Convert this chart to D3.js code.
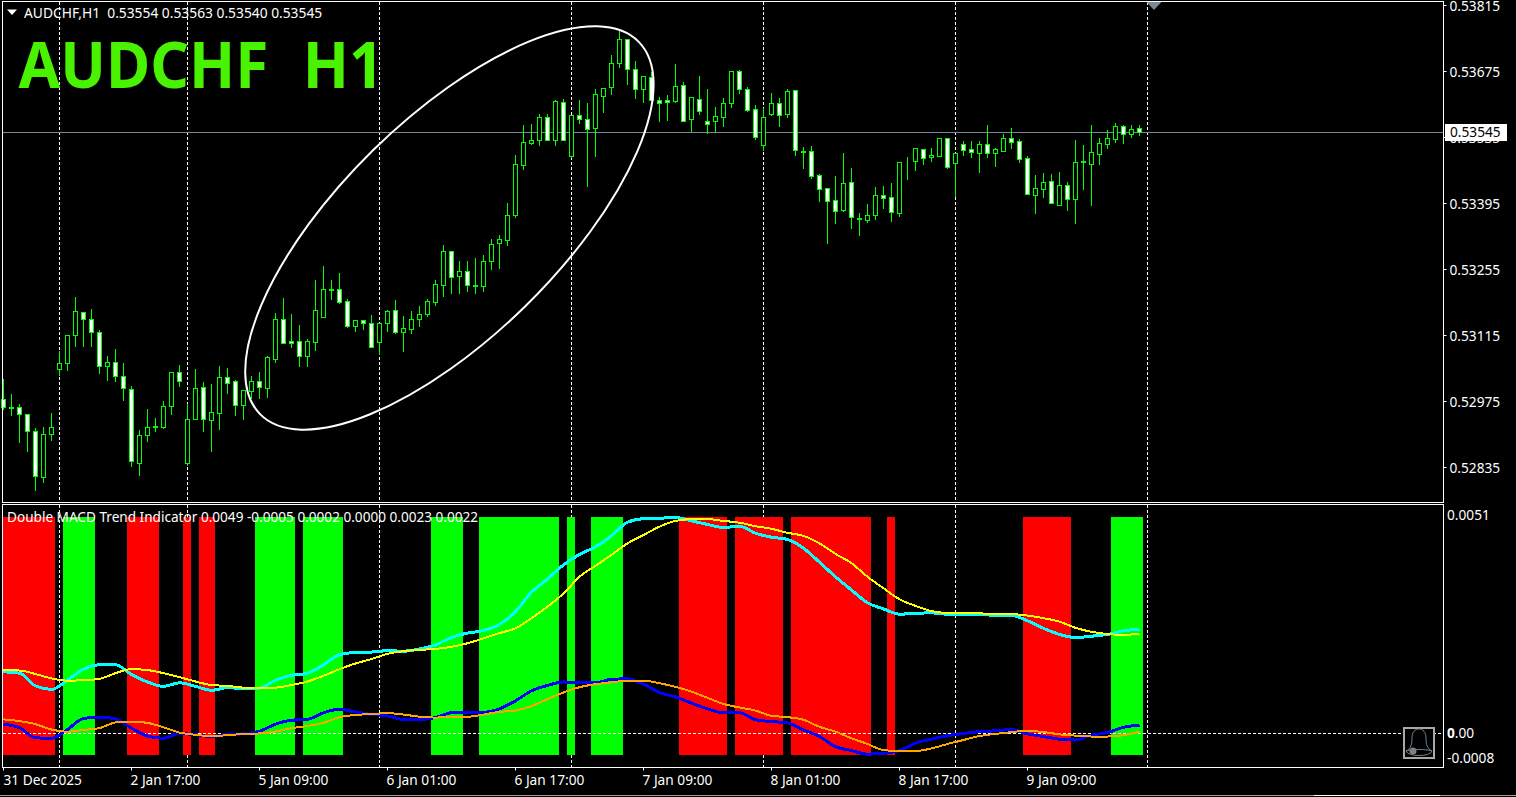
<!DOCTYPE html>
<html>
<head>
<meta charset="utf-8">
<title>AUDCHF H1</title>
<script src="https://cdn.jsdelivr.net/npm/d3@7"></script>
<style>
    html, body { margin: 0; background: #000; overflow: hidden; }
    svg { display: block; }
    text { font-family: "Noto Sans", sans-serif; font-size: 13.7px; fill: #fff; white-space: pre; }
</style>
</head>
<body>
<div id="viz"></div>
<script>
const width = 1516;
const height = 797;

// prices in points (1/100000), one entry per H1 bar
const opens = [
    52979,52963,52963,52948,52911,52814,52904,53042,53056,53116,
    53163,53150,53121,53049,53057,53027,53000,52844,52902,52921,
    52920,52964,53036,52844,52936,53004,52935,52950,53025,53017,
    52967,52997,53017,53003,53065,53150,53102,53102,53071,53101,
    53154,53213,53212,53187,53135,53146,53140,53100,53140,53167,
    53122,53128,53150,53160,53184,53222,53293,53241,53250,53222,
    53220,53273,53310,53317,53370,53476,53523,53529,53577,53529,
    53609,53495,53581,53574,53555,53623,53642,53693,53742,53679,
    53636,53662,53613,53613,53612,53645,53573,53616,53568,53570,
    53578,53607,53676,53636,53594,53517,53584,53607,53584,53634,
    53505,53505,53454,53426,53401,53381,53439,53364,53360,53370,
    53413,53407,53374,53483,53485,53509,53492,53495,53532,53480,
    53520,53509,53500,53520,53500,53506,53532,53526,53490,53413,
    53425,53441,53391,53433,53404,53485,53478,53498,53521,53531,
    53558,53542,53554];
const closes = [
    52962,52961,52947,52911,52815,52904,52919,53055,53114,53165,
    53150,53121,53049,53057,53027,53002,52847,52902,52920,52919,
    52964,53036,53017,52936,53002,52936,52951,53025,53014,52967,
    52998,53017,53005,53068,53148,53097,53097,53071,53102,53167,
    53212,53210,53186,53135,53146,53140,53089,53140,53165,53122,
    53129,53148,53159,53187,53223,53293,53239,53250,53222,53220,
    53273,53307,53318,53369,53477,53524,53528,53577,53529,53611,
    53528,53581,53574,53553,53626,53640,53693,53742,53679,53636,
    53664,53613,53607,53609,53643,53568,53619,53591,53563,53579,
    53607,53674,53636,53593,53534,53577,53607,53582,53632,53507,
    53503,53453,53425,53400,53379,53437,53366,53362,53369,53413,
    53406,53376,53481,53481,53511,53491,53496,53532,53472,53502,
    53508,53503,53520,53500,53509,53532,53525,53489,53415,53426,
    53439,53394,53433,53404,53483,53483,53503,53522,53532,53558,
    53542,53553,53545];
const highs = [
    53023,52991,52970,52949,52919,52923,52951,53083,53117,53198,
    53166,53172,53127,53072,53087,53058,53009,52916,52960,52941,
    52977,53039,53053,52970,53045,53017,53013,53051,53047,53021,
    53000,53030,53039,53073,53164,53196,53161,53138,53109,53234,
    53264,53234,53249,53194,53150,53150,53159,53141,53170,53191,
    53157,53168,53179,53193,53233,53308,53293,53274,53274,53280,
    53287,53320,53329,53397,53499,53563,53565,53585,53585,53615,
    53617,53582,53615,53609,53640,53641,53710,53761,53744,53698,
    53666,53675,53622,53626,53692,53654,53619,53666,53640,53600,
    53619,53674,53679,53643,53604,53598,53630,53620,53640,53634,
    53516,53518,53459,53426,53454,53503,53471,53375,53395,53431,
    53433,53440,53481,53494,53513,53510,53513,53536,53534,53503,
    53528,53528,53528,53562,53513,53543,53556,53532,53496,53457,
    53461,53459,53463,53442,53531,53520,53562,53534,53551,53567,
    53562,53562,53563];
const lows = [
    52959,52945,52887,52870,52787,52804,52892,53030,53041,53092,
    53092,53092,53035,53020,53018,52977,52837,52818,52890,52911,
    52918,52947,53007,52839,52936,52911,52870,52916,52992,52945,
    52937,52981,52981,52984,53058,53097,53090,53049,53049,53083,
    53154,53191,53183,53132,53124,53128,53089,53075,53124,53119,
    53081,53120,53134,53155,53179,53198,53204,53204,53208,53204,
    53208,53255,53257,53306,53365,53467,53520,53518,53529,53518,
    53528,53493,53565,53432,53495,53589,53627,53684,53648,53618,
    53610,53613,53570,53571,53610,53568,53548,53584,53544,53546,
    53558,53599,53629,53591,53531,53507,53582,53558,53578,53497,
    53469,53448,53399,53310,53353,53378,53342,53327,53355,53361,
    53384,53357,53367,53446,53465,53478,53484,53495,53469,53410,
    53497,53493,53461,53493,53474,53506,53512,53483,53415,53374,
    53408,53394,53391,53380,53353,53425,53391,53478,53512,53524,
    53522,53536,53540];

const priceTicks = [53815, 53675, 53535, 53395, 53255, 53115, 52975, 52835];
const lastPrice = 53545;
const separatorBars = [7, 23, 47, 71, 95, 119, 143];
const xTickBars = [0, 16, 32, 48, 64, 80, 96, 112, 128];
const xTickLabels = ['31 Dec 2025', '2 Jan 17:00', '5 Jan 09:00', '6 Jan 01:00', '6 Jan 17:00',
    '7 Jan 09:00', '8 Jan 01:00', '8 Jan 17:00', '9 Jan 09:00'];

// indicator: runs of trend bars as [first bar, last bar]
const redRuns = [[0,6],[16,19],[23,23],[25,26],[85,90],[92,97],[99,108],[111,111],[128,133]];
const greenRuns = [[8,11],[32,36],[38,42],[54,57],[60,69],[71,71],[74,77],[139,142]];
const histTop = 490;
const histBottom = -50;

// indicator lines in 1/100000, read at every second bar
const lineBars = d3.range(0, 143, 2);
const cyanLine = [
    139,136,107,99,120,145,155,155,133,116,106,114,106,97,103,101,102,120,131,136,155,178,183,184,187,
    186,191,200,217,227,233,247,276,320,350,382,406,423,448,479,487,488,490,482,474,467,470,454,445,440,
    420,388,355,325,296,282,270,272,273,270,270,270,267,267,255,238,224,217,220,224,232,236];
const yellowLine = [
    143,142,134,124,119,120,123,136,145,143,136,127,117,109,107,103,102,103,109,117,130,145,158,168,180,
    186,189,191,196,204,215,227,238,261,287,317,355,380,405,431,450,469,482,486,486,482,478,470,464,455,
    448,431,407,386,355,329,304,289,277,273,273,272,270,270,267,261,253,239,230,225,223,226];
const blueLine = [
    20,12,-11,-12,8,33,36,32,11,-7,-12,-1,-4,-8,-3,-2,4,20,29,31,46,54,48,42,39,
    31,31,35,46,47,47,55,73,96,108,116,114,114,122,123,111,92,82,68,55,46,46,30,26,23,
    7,-8,-31,-40,-48,-46,-40,-23,-14,-6,-1,3,5,8,-2,-8,-14,-16,-5,1,13,18];
const orangeLine = [
    31,27,20,8,3,7,11,24,26,23,13,1,-4,-7,-5,-2,-1,3,11,16,23,36,41,43,45,
    42,37,35,37,37,42,48,51,61,77,92,104,111,115,119,119,113,105,94,80,66,58,51,39,36,
    30,14,3,-12,-25,-39,-41,-41,-35,-25,-16,-7,-2,2,5,2,-3,-6,-8,-8,-5,3];

const mainTitle = 'AUDCHF  H1';
const chartLabel = 'AUDCHF,H1  0.53554 0.53563 0.53540 0.53545';
const indicatorLabel = 'Double MACD Trend Indicator 0.0049 -0.0005 0.0002 0.0000 0.0023 0.0022';
const candles = opens.map((o, i) => ({i, o, c: closes[i], h: highs[i], l: lows[i]}));

const frameRight = 1443.5;
const mainPanel = {top: 1.5, bottom: 502.5, left: 2.5};
const subPanel = {top: 504.5, bottom: 767.5, left: 2.5};

// Scales
const xScale = d3.scaleLinear().domain([0, 142]).range([3, 1139]);
const priceScale = d3.scaleLinear().domain([52835, 53815]).range([467, 5]);
const macdScale = d3.scaleLinear().domain([0, histTop]).range([733, 517.4]);

const svg = d3.select('#viz')
    .append('svg')
        .attr('width', width)
        .attr('height', height);

svg.append('rect').attr('width', width).attr('height', height).attr('fill', '#000');

// Day separators in both windows
const dashes = svg.append('g')
    .attr('stroke', '#fff')
    .attr('stroke-dasharray', '3,2')
    .attr('shape-rendering', 'crispEdges');
[mainPanel, subPanel].forEach(p => {
    dashes.selectAll(null)
        .data(separatorBars)
        .join('line')
            .attr('x1', d => xScale(d) + 0.5)
            .attr('x2', d => xScale(d) + 0.5)
            .attr('y1', p.top)
            .attr('y2', p.bottom);
});

// Current price line under the candles
svg.append('line')
    .attr('x1', mainPanel.left)
    .attr('x2', frameRight)
    .attr('y1', Math.round(priceScale(lastPrice)) + 0.5)
    .attr('y2', Math.round(priceScale(lastPrice)) + 0.5)
    .attr('stroke', '#778899')
    .attr('shape-rendering', 'crispEdges');

// Candles
const snap = v => Math.round(priceScale(v)) + 0.5;
const candleGroup = svg.append('g')
    .attr('class', 'candles')
    .attr('shape-rendering', 'crispEdges');
candleGroup.selectAll('line')
    .data(candles)
    .join('line')
        .attr('x1', d => xScale(d.i) + 0.5)
        .attr('x2', d => xScale(d.i) + 0.5)
        .attr('y1', d => snap(d.h))
        .attr('y2', d => snap(d.l))
        .attr('stroke', '#00ff00');
candleGroup.selectAll('rect')
    .data(candles)
    .join('rect')
        .attr('x', d => xScale(d.i) - 1.5)
        .attr('width', 4)
        .attr('y', d => snap(Math.max(d.o, d.c)))
        .attr('height', d => snap(Math.min(d.o, d.c)) - snap(Math.max(d.o, d.c)))
        .attr('fill', d => d.c > d.o ? '#000' : '#fff')
        .attr('stroke', '#00ff00');

// Hand drawn ellipse object, anchored on bar and price
const ellipseBar = 55.8;
const ellipsePrice = 53342;
svg.append('ellipse')
    .attr('rx', 265.5)
    .attr('ry', 109)
    .attr('transform', `translate(${xScale(ellipseBar)},${priceScale(ellipsePrice)}) rotate(-44.5)`)
    .attr('fill', 'none')
    .attr('stroke', '#fff')
    .attr('stroke-width', 2);

// Price axis
const priceAxis = d3.axisRight(priceScale)
    .tickValues(priceTicks)
    .tickFormat(d => (d / 100000).toFixed(5))
    .tickSize(3)
    .tickPadding(3);
const priceAxisGroup = svg.append('g')
    .attr('transform', `translate(${frameRight},0)`)
    .call(priceAxis);
priceAxisGroup.select('.domain').remove();
priceAxisGroup.selectAll('line').attr('stroke', '#fff');
priceAxisGroup.selectAll('text')
    .attr('font-family', null)
    .attr('font-size', null)
    .attr('dy', '0.42em');

// Current price flag
svg.append('rect')
    .attr('x', 1445)
    .attr('y', 124)
    .attr('width', 62)
    .attr('height', 17)
    .attr('fill', '#fff');
svg.append('text')
    .attr('x', 1450)
    .attr('y', priceScale(lastPrice))
    .attr('dy', '0.36em')
    .style('fill', '#000')
    .text((lastPrice / 100000).toFixed(5));

// Shift marker at the top
svg.append('path')
    .attr('d', d3.line()([[1146, 1.5], [1162, 1.5], [1154, 10]]))
    .attr('fill', '#778899');

// Window frames
[mainPanel, subPanel].forEach(p => {
    svg.append('rect')
        .attr('x', p.left)
        .attr('y', p.top)
        .attr('width', frameRight - p.left)
        .attr('height', p.bottom - p.top)
        .attr('fill', 'none')
        .attr('stroke', '#fff')
        .attr('shape-rendering', 'crispEdges');
});

// Chart labels
svg.append('path')
    .attr('d', d3.line()([[7, 9.5], [17, 9.5], [12, 15]]))
    .attr('fill', '#fff');
svg.append('text').attr('x', 24).attr('y', 18).style('font-size', '13.8px').text(chartLabel);
svg.append('text')
    .attr('transform', 'translate(18.5,88) scale(1,1.08)')
    .style('font-size', '60.4px')
    .style('font-weight', 700)
    .style('word-spacing', '1.5px')
    .style('fill', '#49f200')
    .text(mainTitle);

// Trend histogram
const indicator = svg.append('g').attr('shape-rendering', 'crispEdges');
const drawRuns = (runs, color) => {
    indicator.append('g')
        .selectAll('rect')
        .data(runs)
        .join('rect')
            .attr('x', d => Math.max(xScale(d[0]) - 4, subPanel.left + 0.5))
            .attr('width', d => xScale(d[1]) + 4 - Math.max(xScale(d[0]) - 4, subPanel.left + 0.5))
            .attr('y', macdScale(histTop))
            .attr('height', macdScale(histBottom) - macdScale(histTop))
            .attr('fill', color);
};
drawRuns(redRuns, '#ff0000');
drawRuns(greenRuns, '#00ff00');

// Zero level
svg.append('line')
    .attr('x1', subPanel.left)
    .attr('x2', frameRight)
    .attr('y1', macdScale(0) + 0.5)
    .attr('y2', macdScale(0) + 0.5)
    .attr('stroke', '#fff')
    .attr('stroke-dasharray', '3,2')
    .attr('shape-rendering', 'crispEdges');

// Indicator lines
const macdLine = d3.line()
    .x((d, i) => xScale(lineBars[i]) + 0.5)
    .y(d => macdScale(d))
    .curve(d3.curveMonotoneX);
[[cyanLine, '#00ffff', 3], [yellowLine, '#ffff00', 2], [blueLine, '#0000ff', 3], [orangeLine, '#ffa500', 2]]
    .forEach(([values, color, w]) => {
        svg.append('path')
            .attr('d', macdLine(values))
            .attr('fill', 'none')
            .attr('stroke', color)
            .attr('stroke-width', w)
            .attr('shape-rendering', 'crispEdges');
    });

svg.append('text').attr('x', 7).attr('y', 522).style('font-size', '13.6px').text(indicatorLabel);

// Indicator axis labels
svg.append('text').attr('x', 1447).attr('y', 520).text('0.0051');
const zeroLabel = svg.append('text').attr('x', 1447).attr('y', 738);
zeroLabel.append('tspan').style('font-weight', 700).text('0');
zeroLabel.append('tspan').text('.00');
svg.append('text').attr('x', 1447).attr('y', 763).text('-0.0008');

// Alert bell button
const bell = svg.append('g').attr('transform', 'translate(1403,727)');
bell.append('rect')
    .attr('x', 1).attr('y', 1).attr('width', 30).attr('height', 30)
    .attr('fill', '#000')
    .attr('stroke', '#a8a8a8')
    .attr('stroke-width', 2);
bell.append('path')
    .attr('d', 'M3,24 C8,22 9,17 9,11 C9,5 12,2 16,2 C20,2 23,5 23,11 C23,17 24,22 29,24 C22,22 10,22 3,24 Z M3,24 C4,30 28,30 29,24')
    .attr('fill', 'none')
    .attr('stroke', '#6f8090')
    .attr('stroke-width', 1);
bell.append('circle').attr('cx', 10).attr('cy', 24).attr('r', 3.5).attr('fill', '#808080');

// Time axis
const timeAxis = d3.axisBottom(xScale)
    .tickValues(xTickBars)
    .tickFormat((d, i) => xTickLabels[i])
    .tickSize(3)
    .tickPadding(5);
const timeAxisGroup = svg.append('g')
    .attr('transform', `translate(0,${subPanel.bottom})`)
    .call(timeAxis);
timeAxisGroup.select('.domain').remove();
timeAxisGroup.selectAll('line').attr('stroke', '#fff');
timeAxisGroup.selectAll('text')
    .attr('font-family', null)
    .attr('font-size', null)
    .attr('text-anchor', 'start')
    .attr('dx', (d, i) => i ? -1 : 0);

// Status bar edge at the bottom of the window
svg.append('line').attr('x1', 0).attr('x2', width).attr('y1', 795.5).attr('y2', 795.5)
    .attr('stroke', '#a0a0a0').attr('shape-rendering', 'crispEdges');
svg.append('line').attr('x1', 1314).attr('x2', 1440).attr('y1', 795.5).attr('y2', 795.5)
    .attr('stroke', '#fff').attr('shape-rendering', 'crispEdges');
</script>
</body>
</html>
